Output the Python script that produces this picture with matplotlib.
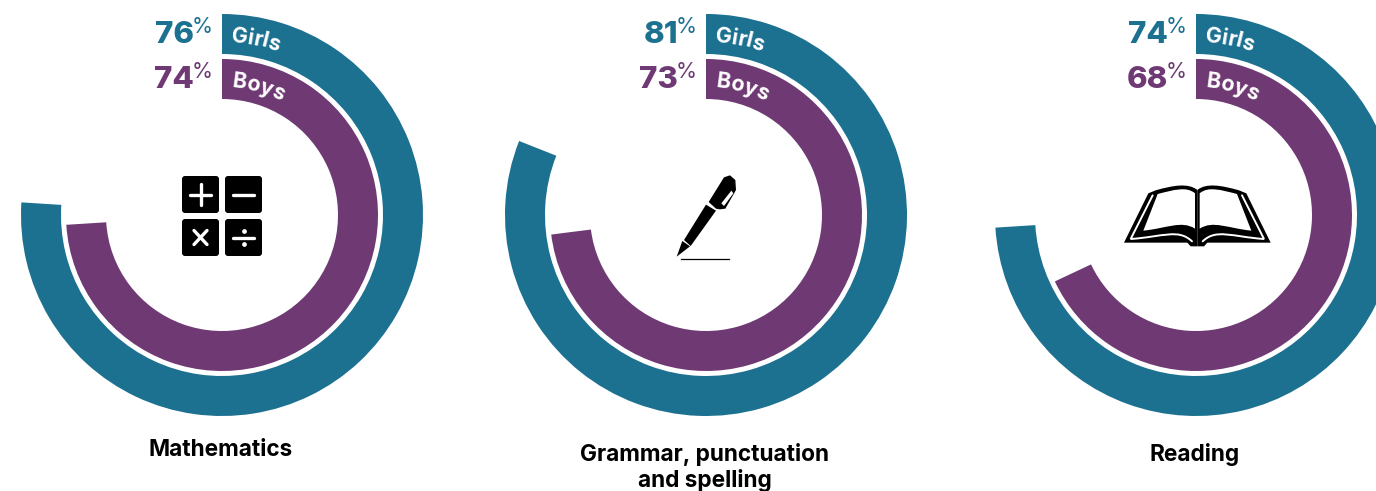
import numpy as np
import matplotlib
matplotlib.use('Agg')
import matplotlib.pyplot as plt
from matplotlib.patches import Wedge, FancyBboxPatch, Polygon, PathPatch
from matplotlib.path import Path
from matplotlib.textpath import TextPath
from matplotlib.font_manager import FontProperties

subjects = [['Mathematics'], ['Grammar, punctuation', 'and spelling'], ['Reading']]
girls_pct = [76, 81, 74]
boys_pct = [74, 73, 68]

TEAL = '#1c7090'
PURPLE = '#6f3a74'
FONT = 'Inter'

centres_x = [222, 706, 1196]
centre_y = 215


def curved_label(ax, label, cx, cy, radius, start_deg, size):
    # place each letter on the arc, turning it with the ring
    fp = FontProperties(family=FONT, weight='bold', size=size)
    pos = start_deg
    for i, ch in enumerate(label):
        w_pt = TextPath((0, 0), label[:i + 1], prop=fp).get_extents().x1
        w_prev = TextPath((0, 0), label[:i], prop=fp).get_extents().x1 if i else 0
        w_px = (w_pt - w_prev) * 100 / 72 * 1.04
        mid = pos + np.degrees(w_px / 2 / radius)
        a = np.radians(mid)
        ax.text(cx + radius * np.sin(a), cy - radius * np.cos(a), ch, color='white',
                fontproperties=fp, ha='center', va='center_baseline',
                rotation=-mid, rotation_mode='anchor')
        pos += np.degrees(w_px / radius)


def calculator(ax, cx, cy):
    for x, y in [(-21.5, -21.5), (21.5, -21.5), (-21.5, 21.5), (21.5, 21.5)]:
        ax.add_patch(FancyBboxPatch((cx + x - 16.5, cy + y - 16.5), 33, 33,
                                    boxstyle='round,pad=2,rounding_size=3',
                                    fc='black', ec='none', zorder=3))
    kw = dict(color='white', lw=2.4, solid_capstyle='round', zorder=4)
    # plus
    ax.plot([cx - 32, cx - 11], [cy - 21.5, cy - 21.5], **kw)
    ax.plot([cx - 21.5, cx - 21.5], [cy - 32, cy - 11], **kw)
    # minus
    ax.plot([cx + 11, cx + 32], [cy - 21.5, cy - 21.5], **kw)
    # times
    ax.plot([cx - 28, cx - 15], [cy + 14.5, cy + 28.5], **kw)
    ax.plot([cx - 28, cx - 15], [cy + 28.5, cy + 14.5], **kw)
    # divide
    ax.plot([cx + 11, cx + 32], [cy + 21.5, cy + 21.5], **kw)
    ax.plot([cx + 21.5], [cy + 14.5], 'o', color='white', ms=2.4, zorder=4)
    ax.plot([cx + 21.5], [cy + 28], 'o', color='white', ms=2.4, zorder=4)


def pen(ax, ox, oy):
    def pts(coords):
        return [(ox + x / 3, oy + y / 3) for x, y in coords]
    tip = [(80, 290), (97, 243), (120, 259)]
    barrel = [(102, 240), (168, 134), (198, 152), (122, 258)]
    cap = [(176, 126), (222, 52), (240, 46), (256, 60), (258, 90),
           (226, 146), (210, 148), (198, 146)]
    for c in (tip, barrel, cap):
        ax.add_patch(Polygon(pts(c), closed=True, fc='black', ec='none', zorder=3))
    # white slot of the clip
    ax.add_patch(Polygon(pts([(214, 130), (244, 92), (250, 100), (222, 138)]),
                         closed=True, fc='white', ec='none', zorder=4))
    line = pts([(93, 298), (236, 298)])
    ax.plot([line[0][0], line[1][0]], [line[0][1], line[1][1]], color='black', lw=0.9, zorder=3)


def book(ax, ox, oy):
    def tr(x, y):
        return (ox + x / 3, oy + y / 3)

    def mirror(coords):
        return [(524 - x, y) for x, y in coords]

    def curve(coords, codes, fc, ec='none', lw=0, fill=True, z=3):
        ax.add_patch(PathPatch(Path([tr(*c) for c in coords], codes), fc=fc if fill else 'none',
                               ec=ec, lw=lw, zorder=z, capstyle='round'))

    M, L, C, Z = Path.MOVETO, Path.LINETO, Path.CURVE4, Path.CLOSEPOLY
    # black silhouette
    codes = [M, C, C, C, L, L, L, L, L, L]
    coords = [(262, 60), (235, 38), (190, 46), (137, 61), (115, 70), (42, 218), (232, 218),
              (242, 229), (262, 229), (262, 60)]
    curve(coords, codes, 'black')
    curve(mirror(coords), codes, 'black')
    # left and right pages
    page = [(255, 70), (230, 48), (190, 60), (143, 72), (100, 182), (170, 175), (215, 150),
            (255, 176), (255, 70)]
    pcodes = [M, C, C, C, L, C, C, C, Z]
    curve(page, pcodes, 'white', z=4)
    curve(mirror(page), pcodes, 'white', z=4)
    # thin white page edges
    edge = [(128, 76), (62, 207), (160, 200), (205, 175), (246, 214)]
    ecodes = [M, L, C, C, C]
    curve(edge, ecodes, 'none', ec='white', lw=1.4, fill=False, z=4)
    curve(mirror(edge), ecodes, 'none', ec='white', lw=1.4, fill=False, z=4)


fig = plt.figure(figsize=(13.76, 4.91), dpi=100)
ax = fig.add_axes([0, 0, 1, 1])
ax.set_xlim(0, 1376)
ax.set_ylim(491, 0)
ax.axis('off')

for i, cx in enumerate(centres_x):
    # y axis points down, so angles run clockwise from the top at -90
    ax.add_patch(Wedge((cx, centre_y), 201, -90, -90 + girls_pct[i] * 3.6, width=40,
                       fc=TEAL, ec='none'))
    ax.add_patch(Wedge((cx, centre_y), 156, -90, -90 + boys_pct[i] * 3.6, width=40,
                       fc=PURPLE, ec='none'))

    curved_label(ax, 'Girls', cx, centre_y, 181, 3.2, 15.5)
    curved_label(ax, 'Boys', cx, centre_y, 136, 4.5, 15.5)

    for val, y, col in ((girls_pct[i], 35, TEAL), (boys_pct[i], 80, PURPLE)):
        ax.text(cx - 28, y, str(val), color=col, family=FONT, weight='heavy', size=22.5,
                ha='right', va='center')
        ax.text(cx - 9, y - 8, '%', color=col, family=FONT, size=15.5,
                ha='right', va='center')

    y0 = 450 if i == 0 else 455
    for j, t in enumerate(subjects[i]):
        ax.text(cx - 1, y0 + j * 26, t, color='black', family=FONT,
                weight='bold', size=16.3, ha='center', va='center')

calculator(ax, centres_x[0], 216)
pen(ax, 650, 160)
book(ax, 1110, 170)

fig.savefig('out.png', dpi=100)
